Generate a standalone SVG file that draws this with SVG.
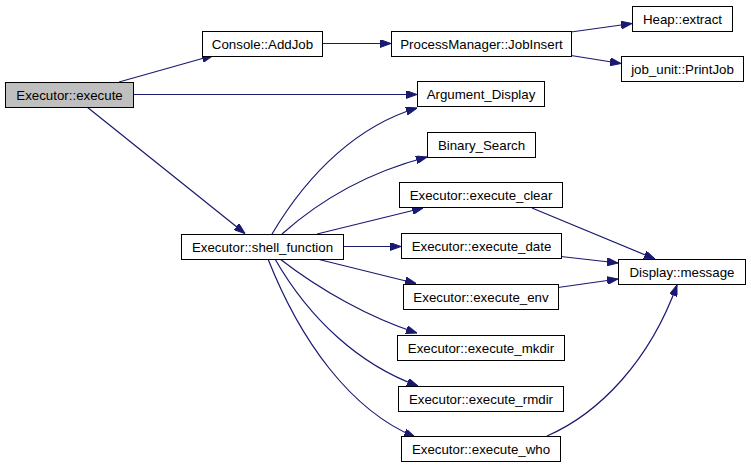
<svg xmlns="http://www.w3.org/2000/svg" width="751" height="468" viewBox="0 0 751 468">
<defs>
<marker id="arr" markerWidth="11" markerHeight="8" refX="11" refY="4" orient="auto" markerUnits="userSpaceOnUse">
<path d="M0,0 L11,4 L0,8 z" fill="#191970" stroke="#191970" stroke-width="1"/>
</marker>
<style>
.n rect{fill:#ffffff;stroke:#000000;stroke-width:1}
.n rect.g{fill:#bfbfbf}
.n text{font-family:"Liberation Sans",Arial,sans-serif;font-size:13.3px;fill:#000000;text-anchor:middle}
.e path{fill:none;stroke:#191970;stroke-width:1.2;marker-end:url(#arr)}
</style>
</defs>
<rect width="751" height="468" fill="#ffffff"/>
<g id="connectors" class="e">
<path d="M119,82 L213,55.5"/>
<path d="M133,94.5 L417,94.5"/>
<path d="M87,107 L245,233.5"/>
<path d="M322,43.5 L391,43.5"/>
<path d="M571,32 L632,23.5"/>
<path d="M571,55.5 L621,63.5"/>
<path d="M272,234 C310,170 360,125 417,108"/>
<path d="M282,234 C320,200 370,172 427,157"/>
<path d="M317,234 L423,208"/>
<path d="M343,246.5 L401,246.5"/>
<path d="M317,259 L416,283.5"/>
<path d="M280,259 C320,290 370,318 417,333"/>
<path d="M275,259 C310,320 360,365 418,386"/>
<path d="M268,259 C300,340 350,410 415,437"/>
<path d="M532,208 L655,259"/>
<path d="M561,256.5 L618,263"/>
<path d="M558,287.5 L618,279"/>
<path d="M547,436 C600,413 650,360 677,285"/>
</g>
<g id="executor_execute" class="n"><rect class="g" x="5.5" y="82.5" width="128" height="25"/><text x="69.5" y="99.5">Executor::execute</text></g>
<g id="console_addjob" class="n"><rect x="202.5" y="31.5" width="120" height="25"/><text x="262.5" y="48.5">Console::AddJob</text></g>
<g id="processmanager_jobinsert" class="n"><rect x="391.5" y="31.5" width="180" height="25"/><text x="481.5" y="48.5">ProcessManager::JobInsert</text></g>
<g id="heap_extract" class="n"><rect x="632.5" y="6.5" width="100" height="25"/><text x="682.5" y="23.5">Heap::extract</text></g>
<g id="job_unit_printjob" class="n"><rect x="621.5" y="56.5" width="122" height="25"/><text x="682.5" y="73.5">job_unit::PrintJob</text></g>
<g id="argument_display" class="n"><rect x="417.5" y="81.5" width="127" height="25"/><text x="481" y="98.5">Argument_Display</text></g>
<g id="binary_search" class="n"><rect x="427.5" y="132.5" width="108" height="25"/><text x="481.5" y="149.5">Binary_Search</text></g>
<g id="execute_clear" class="n"><rect x="399.5" y="182.5" width="163" height="25"/><text x="481" y="199.5">Executor::execute_clear</text></g>
<g id="execute_date" class="n"><rect x="401.5" y="233.5" width="160" height="25"/><text x="481.5" y="250.5">Executor::execute_date</text></g>
<g id="execute_env" class="n"><rect x="403.5" y="284.5" width="155" height="25"/><text x="481" y="301.5">Executor::execute_env</text></g>
<g id="execute_mkdir" class="n"><rect x="397.5" y="335.5" width="167" height="25"/><text x="481" y="352.5">Executor::execute_mkdir</text></g>
<g id="execute_rmdir" class="n"><rect x="398.5" y="386.5" width="165" height="25"/><text x="481" y="403.5">Executor::execute_rmdir</text></g>
<g id="execute_who" class="n"><rect x="401.5" y="436.5" width="159" height="25"/><text x="481" y="453.5">Executor::execute_who</text></g>
<g id="shell_function" class="n"><rect x="181.5" y="234.5" width="162" height="25"/><text x="262.5" y="251.5">Executor::shell_function</text></g>
<g id="display_message" class="n"><rect x="618.5" y="259.5" width="127" height="25"/><text x="682" y="276.5">Display::message</text></g>
</svg>
